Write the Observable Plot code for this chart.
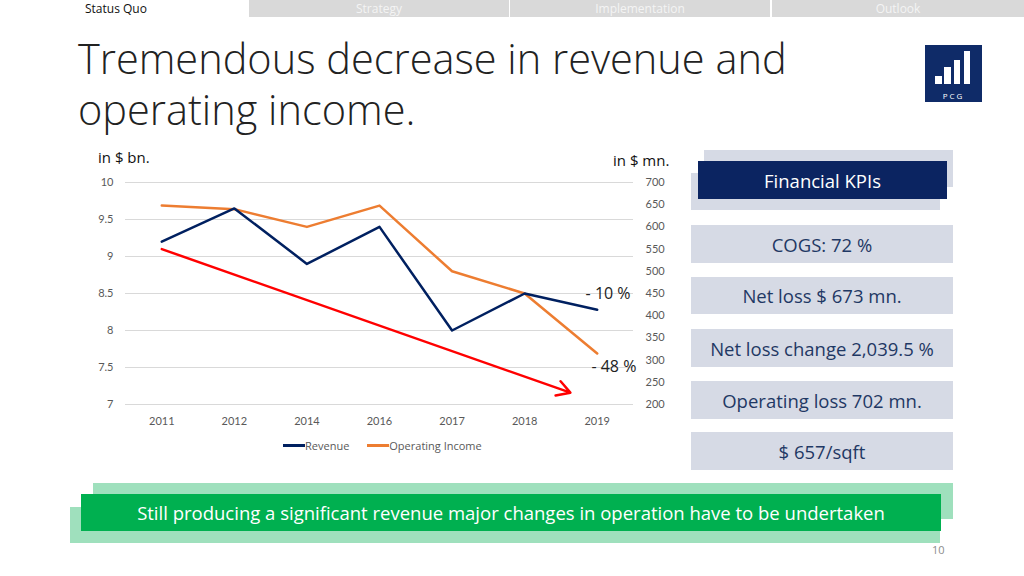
<!DOCTYPE html>
<html><head><meta charset="utf-8">
<script src="https://cdn.jsdelivr.net/npm/d3@7"></script>
<script src="https://cdn.jsdelivr.net/npm/@observablehq/plot@0.6"></script>
<style>
html,body{margin:0;padding:0;background:#fff;}
body{width:1024px;height:576px;position:relative;overflow:hidden;font-family:"Open Sans",Lato,sans-serif;}
.abs{position:absolute;}
.tab{position:absolute;top:0;height:17px;font-size:12px;line-height:17px;text-align:center;color:#f4f4f4;background:#d9d9d9;}
.kpi{position:absolute;left:691px;width:262px;background:#d6dae5;color:#1f3864;font-size:18.5px;text-align:center;display:flex;align-items:center;justify-content:center;}
</style></head>
<body>
<div class="tab" style="left:0;width:248px;background:#fff;color:#111;text-align:left;"><span style="position:absolute;left:85px;">Status Quo</span></div>
<div class="tab" style="left:249px;width:260px;">Strategy</div>
<div class="tab" style="left:510px;width:260px;">Implementation</div>
<div class="tab" style="left:772px;width:252px;">Outlook</div>

<div class="abs" style="left:78px;top:33px;font-size:41.5px;font-weight:300;line-height:51px;color:#222;">Tremendous decrease in revenue and<br>operating income.</div>

<div class="abs" style="left:925px;top:45px;width:57px;height:57px;background:#0f2b68;">
  <div class="abs" style="left:10px;top:31px;width:7px;height:8px;background:#fff;"></div>
  <div class="abs" style="left:19px;top:22px;width:7px;height:17px;background:#fff;"></div>
  <div class="abs" style="left:29px;top:15px;width:6px;height:24px;background:#fff;"></div>
  <div class="abs" style="left:39px;top:6px;width:6px;height:33px;background:#fff;"></div>
  <div class="abs" style="left:0;top:45px;width:57px;text-align:center;font-size:8px;letter-spacing:2px;color:#fff;">PCG</div>
</div>

<div class="abs" style="left:98px;top:147px;font-size:15px;color:#111;">in $ bn.</div>
<div class="abs" style="left:613px;top:150px;font-size:15px;color:#111;">in $ mn.</div>

<div id="chart" class="abs" style="left:80px;top:170px;"></div>

<div class="abs" style="left:283px;top:438px;font-size:11px;color:#595959;display:flex;align-items:center;">
  <span style="display:inline-block;width:22px;height:2.5px;background:#002060;"></span><span style="margin-right:18px;">Revenue</span>
  <span style="display:inline-block;width:22px;height:2.5px;background:#ed7d31;"></span><span>Operating Income</span>
</div>

<div class="abs" style="left:704px;top:150px;width:249px;height:37px;background:#d6dae5;"></div>
<div class="abs" style="left:691px;top:173px;width:249px;height:37px;background:#d6dae5;"></div>
<div class="abs" style="left:698px;top:161px;width:249px;height:38px;background:#0b2461;color:#fff;font-size:18.5px;display:flex;align-items:center;justify-content:center;">Financial KPIs</div>
<div class="kpi" style="top:225px;height:38px;">COGS: 72 %</div>
<div class="kpi" style="top:277px;height:37px;">Net loss $ 673 mn.</div>
<div class="kpi" style="top:329px;height:38px;">Net loss change 2,039.5 %</div>
<div class="kpi" style="top:381px;height:38px;">Operating loss 702 mn.</div>
<div class="kpi" style="top:432px;height:38px;">$ 657/sqft</div>

<div class="abs" style="left:93px;top:483px;width:860px;height:36px;background:#9fe0bd;"></div>
<div class="abs" style="left:70px;top:507px;width:870px;height:36px;background:#9fe0bd;"></div>
<div class="abs" style="left:81px;top:494px;width:860px;height:37px;background:#00b050;color:#fff;font-size:18.5px;display:flex;align-items:center;justify-content:center;">Still producing a significant revenue major changes in operation have to be undertaken</div>
<div class="abs" style="left:932px;top:542px;font-size:11px;color:#8c8c8c;">10</div>

<script>
const years = ["2011","2012","2014","2016","2017","2018","2019"];
const revenue = [9.2, 9.65, 8.9, 9.4, 8.0, 8.5, 8.28];
const opIncome = [648, 640, 600, 648, 500, 450, 315];
const leftTicks = [7, 7.5, 8, 8.5, 9, 9.5, 10];
const rightTicks = [200, 250, 300, 350, 400, 450, 500, 550, 600, 650, 700];
const trendX = [0, 5.63];
const trendY = [9.1, 7.16];
const noteText = ["- 10 %", "- 48 %"];
const noteX = [6.46, 6.54];
const noteY = [8.5, 7.51];

const toLeft = v => 7 + (v - 200) * 3 / 500;
const fromLeft = y => Math.round(200 + (y - 7) * 500 / 3);

const idx = d3.range(years.length);
const rev = idx.map(i => ({i, v: revenue[i]}));
const op = idx.map(i => ({i, v: toLeft(opIncome[i])}));
const trend = [{x1: trendX[0], y1: trendY[0], x2: trendX[1], y2: trendY[1]}];
const notes = noteText.map((t, k) => ({t, x: noteX[k], y: noteY[k]}));

const chart = Plot.plot({
  width: 600, height: 260,
  marginLeft: 45, marginRight: 47, marginTop: 12, marginBottom: 26,
  style: {fontFamily: "Lato, 'Open Sans', sans-serif", fontSize: "11px", color: "#595959", background: "transparent"},
  x: {domain: [-0.5, 6.5], axis: null},
  y: {domain: [7, 10], axis: null},
  marks: [
    Plot.gridY(leftTicks, {stroke: "#d9d9d9", strokeOpacity: 1}),
    Plot.axisY(leftTicks, {anchor: "left", tickSize: 0, tickPadding: 12, tickFormat: d => String(d), fill: "#595959"}),
    Plot.axisY(rightTicks.map(toLeft), {anchor: "right", tickSize: 0, tickPadding: 12, tickFormat: fromLeft, fill: "#595959"}),
    Plot.axisX(idx, {anchor: "bottom", tickSize: 0, tickPadding: 13, tickFormat: i => years[i], fill: "#595959"}),
    Plot.line(op, {x: "i", y: "v", stroke: "#ed7d31", strokeWidth: 2.5}),
    Plot.line(rev, {x: "i", y: "v", stroke: "#002060", strokeWidth: 2.5}),
    Plot.arrow(trend, {x1: "x1", y1: "y1", x2: "x2", y2: "y2", stroke: "#ff0000", strokeWidth: 2.5, headLength: 9, bend: 0}),
    Plot.text(notes, {x: "x", y: "y", text: "t", textAnchor: "end", fontSize: 16, fill: "#222", fontFamily: "'Open Sans', sans-serif"})
  ]
});
document.getElementById("chart").appendChild(chart);
</script>
</body></html>
